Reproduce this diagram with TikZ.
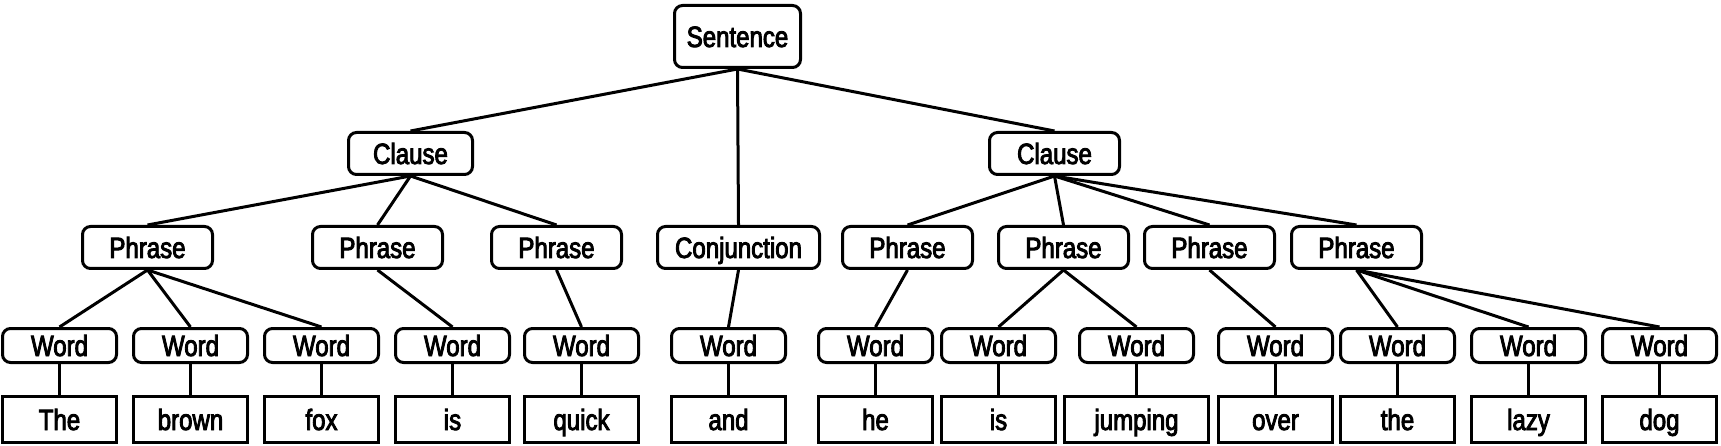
\documentclass[tikz,border=0pt]{standalone}
\usepackage{fontspec}
\setmainfont{Liberation Sans}[FakeStretch=0.82,FakeBold=3]
\begin{document}
\begin{tikzpicture}[x=1pt,y=-1pt,
  box/.style={draw, line width=3pt, rounded corners=8pt, fill=white, inner sep=0pt,
    text height=21pt, text depth=0pt, font=\fontsize{29.3}{32}\selectfont},
  sbox/.style={box, minimum height=62pt},
  cbox/.style={box, minimum height=42pt},
  pbox/.style={box, minimum height=42pt, minimum width=130pt},
  wbox/.style={box, minimum height=34pt, minimum width=114pt},
  tbox/.style={box, rounded corners=0pt, minimum height=46pt, minimum width=114pt},
  link/.style={line width=3pt}]
\useasboundingbox (0,0) rectangle (1721,446);
% level 0
\node[sbox, minimum width=126pt] (S) at (737.5,36.5) {Sentence};
% level 1
\node[cbox, minimum width=124pt] (C1) at (410.5,153.5) {Clause};
\node[cbox, minimum width=130pt] (C2) at (1054.5,153.5) {Clause};
% level 2
\node[pbox] (P1) at (147.5,247.5) {Phrase};
\node[pbox] (P2) at (377.5,247.5) {Phrase};
\node[pbox] (P3) at (556.5,247.5) {Phrase};
\node[pbox, minimum width=162pt] (CJ) at (738.5,247.5) {Conjunction};
\node[pbox] (P4) at (907.5,247.5) {Phrase};
\node[pbox] (P5) at (1063.5,247.5) {Phrase};
\node[pbox] (P6) at (1209.5,247.5) {Phrase};
\node[pbox] (P7) at (1356.5,247.5) {Phrase};
% level 3
\node[wbox] (W1) at (59.5,345.5) {Word};
\node[wbox] (W2) at (190.5,345.5) {Word};
\node[wbox] (W3) at (321.5,345.5) {Word};
\node[wbox] (W4) at (452.5,345.5) {Word};
\node[wbox] (W5) at (581.5,345.5) {Word};
\node[wbox] (W6) at (728.5,345.5) {Word};
\node[wbox] (W7) at (875.5,345.5) {Word};
\node[wbox] (W8) at (998.5,345.5) {Word};
\node[wbox] (W9) at (1136.5,345.5) {Word};
\node[wbox] (W10) at (1275.5,345.5) {Word};
\node[wbox] (W11) at (1397.5,345.5) {Word};
\node[wbox] (W12) at (1528.5,345.5) {Word};
\node[wbox] (W13) at (1659.5,345.5) {Word};
% level 4
\node[tbox] (T1) at (59.5,419.5) {The};
\node[tbox] (T2) at (190.5,419.5) {brown};
\node[tbox] (T3) at (321.5,419.5) {fox};
\node[tbox] (T4) at (452.5,419.5) {is};
\node[tbox] (T5) at (581.5,419.5) {quick};
\node[tbox] (T6) at (728.5,419.5) {and};
\node[tbox] (T7) at (875.5,419.5) {he};
\node[tbox] (T8) at (998.5,419.5) {is};
\node[tbox, minimum width=144pt] (T9) at (1136.5,419.5) {jumping};
\node[tbox] (T10) at (1275.5,419.5) {over};
\node[tbox] (T11) at (1397.5,419.5) {the};
\node[tbox] (T12) at (1528.5,419.5) {lazy};
\node[tbox] (T13) at (1659.5,419.5) {dog};
% connectors
\draw[link] (S.south) -- (C1.north);
\draw[link] (S.south) -- (CJ.north);
\draw[link] (S.south) -- (C2.north);
\draw[link] (C1.south) -- (P1.north);
\draw[link] (C1.south) -- (P2.north);
\draw[link] (C1.south) -- (P3.north);
\draw[link] (C2.south) -- (P4.north);
\draw[link] (C2.south) -- (P5.north);
\draw[link] (C2.south) -- (P6.north);
\draw[link] (C2.south) -- (P7.north);
\draw[link] (P1.south) -- (W1.north);
\draw[link] (P1.south) -- (W2.north);
\draw[link] (P1.south) -- (W3.north);
\draw[link] (P2.south) -- (W4.north);
\draw[link] (P3.south) -- (W5.north);
\draw[link] (CJ.south) -- (W6.north);
\draw[link] (P4.south) -- (W7.north);
\draw[link] (P5.south) -- (W8.north);
\draw[link] (P5.south) -- (W9.north);
\draw[link] (P6.south) -- (W10.north);
\draw[link] (P7.south) -- (W11.north);
\draw[link] (P7.south) -- (W12.north);
\draw[link] (P7.south) -- (W13.north);
\foreach \i in {1,...,13} \draw[link] (W\i.south) -- (T\i.north);
\end{tikzpicture}
\end{document}
